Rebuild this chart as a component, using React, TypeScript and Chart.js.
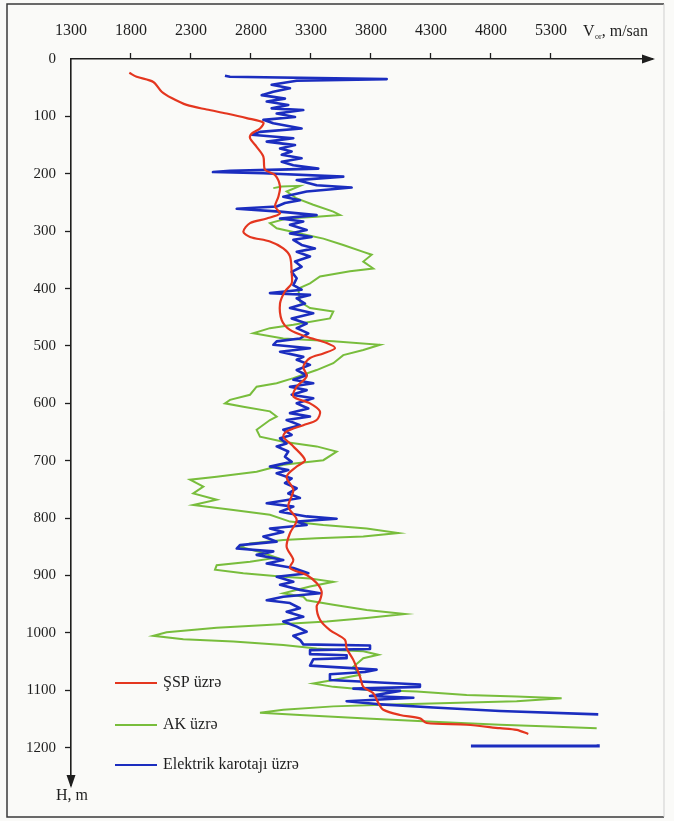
import React, { useEffect, useRef } from "react";
import { Chart, registerables } from "chart.js";

Chart.register(...registerables);

// ---- axes ----
const velocityTicks = [1300, 1800, 2300, 2800, 3300, 3800, 4300, 4800, 5300];
const depthTicks = [0, 100, 200, 300, 400, 500, 600, 700, 800, 900, 1000, 1100, 1200];
const velocityRange = [1300, 6142];
const depthRange = [0, 1265];

const seriesNames = ["ŞSP üzrə", "AK üzrə", "Elektrik karotajı üzrə"];
const seriesColors = ["#e4361f", "#78bd3c", "#1b2dbf"];

// ---- data: [depth H (m), velocity V (m/san)] ----
const sspLog: [number, number][] = [
  [24, 1786], [31, 1847], [40, 1986], [57, 2056], [68, 2139], [80, 2264], [88, 2431], [95, 2597],
  [103, 2764], [111, 2903], [121, 2875], [130, 2806], [138, 2792], [153, 2847], [170, 2903], [193, 2917],
  [202, 3000], [222, 3042], [240, 3028], [257, 3000], [269, 3042], [278, 2931], [286, 2792], [301, 2736],
  [310, 2792], [318, 2958], [330, 3069], [344, 3125], [373, 3139], [391, 3139], [405, 3083], [426, 3042],
  [455, 3056], [472, 3125], [484, 3264], [495, 3431], [504, 3500], [513, 3403], [521, 3292], [536, 3236],
  [553, 3264], [571, 3181], [588, 3153], [600, 3292], [614, 3375], [629, 3347], [638, 3236], [649, 3097],
  [658, 3069], [675, 3153], [699, 3250], [710, 3181], [728, 3097], [751, 3153], [780, 3111], [803, 3181],
  [826, 3125], [850, 3097], [873, 3153], [887, 3125], [899, 3264], [913, 3347], [928, 3389], [943, 3375],
  [954, 3347], [977, 3375], [995, 3458], [1012, 3583], [1027, 3597], [1047, 3653], [1076, 3708], [1094, 3736],
  [1105, 3819], [1122, 3861], [1134, 3903], [1143, 4042], [1149, 4208], [1157, 4264], [1160, 4597], [1166, 4875],
  [1169, 5014], [1176, 5111],
];

const akLog: [number, number][] = [
  [225, 2986], [222, 3056], [221, 3208], [231, 3097], [243, 3181], [254, 3319], [266, 3486], [272, 3542],
  [275, 3347], [278, 3097], [286, 2958], [295, 3014], [304, 3208], [313, 3403], [324, 3569], [336, 3736],
  [341, 3806], [353, 3736], [365, 3819], [370, 3625], [379, 3375], [391, 3292], [400, 3194], [423, 3208],
  [434, 3292], [440, 3486], [452, 3458], [463, 3153], [469, 2958], [478, 2819], [487, 3069], [492, 3486],
  [498, 3875], [507, 3736], [516, 3569], [530, 3486], [542, 3347], [556, 3153], [565, 3014], [571, 2847],
  [585, 2792], [594, 2625], [600, 2583], [606, 2736], [614, 2958], [623, 3014], [629, 2958], [646, 2847],
  [658, 2875], [667, 3069], [675, 3347], [684, 3514], [699, 3403], [707, 3069], [719, 2847], [728, 2514],
  [733, 2292], [745, 2403], [757, 2319], [768, 2514], [777, 2319], [786, 2653], [794, 2958], [806, 3125],
  [812, 3403], [818, 3764], [826, 4028], [832, 3736], [835, 3347], [838, 3069], [844, 2792], [850, 2708],
  [859, 2875], [869, 3014], [876, 2792], [882, 2514], [890, 2500], [896, 2736], [902, 3069], [905, 3292],
  [911, 3486], [919, 3292], [931, 3069], [937, 3236], [943, 3264], [951, 3486], [960, 3764], [967, 4083],
  [974, 3764], [980, 3431], [986, 2931], [991, 2514], [999, 2097], [1005, 1986], [1011, 2236], [1015, 2653],
  [1021, 3069], [1027, 3347], [1030, 3542], [1032, 3736], [1038, 3861], [1044, 3736], [1059, 3653], [1073, 3708],
  [1082, 3486], [1088, 3319], [1094, 3486], [1099, 3764], [1102, 4181], [1108, 4597], [1111, 5014], [1114, 5389],
  [1119, 5014], [1122, 4458], [1125, 3903], [1128, 3486], [1134, 3069], [1139, 2875], [1143, 3208], [1149, 3764],
  [1155, 4319], [1160, 4875], [1163, 5292], [1166, 5681],
];

const ekLog: [number, number][] = [
  [29, 2583], [31, 2625], [35, 3931], [38, 3181], [45, 2972], [51, 3125], [57, 2986], [63, 2889],
  [69, 3083], [74, 2931], [80, 3111], [86, 2972], [89, 3236], [95, 3014], [101, 3167], [106, 2903],
  [112, 2986], [121, 3222], [127, 2875], [132, 2806], [138, 3153], [144, 2931], [150, 3167], [156, 3042],
  [161, 3139], [167, 3056], [173, 3222], [179, 3056], [185, 3153], [191, 3361], [195, 2625], [197, 2483],
  [199, 2903], [205, 3569], [211, 3181], [220, 3347], [224, 3639], [231, 3264], [240, 3069], [246, 3208],
  [251, 3083], [257, 3014], [261, 2681], [266, 3042], [272, 3347], [278, 3042], [283, 3236], [289, 3125],
  [298, 3264], [304, 3125], [310, 3306], [315, 3153], [324, 3222], [330, 3333], [336, 3181], [344, 3292],
  [353, 3167], [362, 3222], [371, 3139], [382, 3181], [394, 3153], [402, 3222], [408, 2958], [411, 3292],
  [417, 3181], [426, 3250], [434, 3125], [443, 3319], [452, 3139], [461, 3264], [469, 3181], [478, 3278],
  [487, 3208], [492, 3014], [498, 2986], [504, 3292], [510, 3042], [519, 3236], [524, 3181], [533, 3292],
  [542, 3181], [551, 3264], [559, 3153], [565, 3319], [571, 3125], [577, 3264], [585, 3139], [591, 3319],
  [600, 3181], [609, 3278], [617, 3125], [623, 3292], [629, 3097], [638, 3208], [646, 3069], [655, 3139],
  [661, 3042], [670, 3097], [675, 3014], [684, 3111], [693, 3083], [702, 3139], [710, 2958], [716, 3111],
  [722, 3014], [731, 3139], [739, 3083], [748, 3181], [757, 3111], [765, 3208], [774, 2931], [780, 3153],
  [789, 3042], [797, 3264], [801, 3514], [806, 3181], [812, 3264], [818, 2958], [824, 3069], [832, 2903],
  [841, 3014], [847, 2708], [853, 2681], [858, 2986], [864, 2847], [873, 3069], [879, 2931], [887, 3153],
  [896, 3278], [902, 3014], [911, 3153], [916, 3042], [925, 3208], [931, 3375], [937, 3069], [943, 2931],
  [948, 3125], [957, 3208], [963, 3097], [972, 3236], [980, 3069], [989, 3181], [998, 3264], [1005, 3153],
  [1012, 3208], [1020, 3236], [1022, 3792], [1028, 3792], [1030, 3292], [1037, 3292], [1039, 3597], [1044, 3597],
  [1046, 3319], [1057, 3292], [1064, 3847], [1068, 3750], [1072, 3458], [1082, 3458], [1090, 4208], [1094, 4208],
  [1097, 3653], [1101, 4042], [1110, 3792], [1113, 4153], [1119, 3597], [1124, 3847], [1130, 4319], [1136, 4875],
  [1142, 5694],
];

const ekTailLog: [number, number][] = [
  [1197, 4633], [1197, 5408], [1194, 5694],
];

const toPoints = (log: [number, number][]) => log.map(([d, v]) => ({ x: v, y: d }));

const SERIF = '"Liberation Serif", "Times New Roman", serif';
const INK = "#1e1e1e";

const decorPlugin = {
  id: "decor",
  beforeDraw(chart: any) {
    const { ctx, width, height } = chart;
    ctx.save();
    ctx.fillStyle = "#fafaf8";
    ctx.fillRect(0, 0, width, height);
    ctx.restore();
  },
  afterDraw(chart: any) {
    const { ctx, chartArea } = chart;
    const { left, top, right, bottom } = chartArea;
    ctx.save();
    // page frame
    ctx.strokeStyle = "#3a3a3a";
    ctx.lineWidth = 1.5;
    ctx.beginPath();
    ctx.moveTo(664, 4);
    ctx.lineTo(7, 4);
    ctx.lineTo(7, 817);
    ctx.lineTo(664, 817);
    ctx.stroke();
    ctx.strokeStyle = "#cfcfcf";
    ctx.lineWidth = 1;
    ctx.beginPath();
    ctx.moveTo(664, 4);
    ctx.lineTo(664, 817);
    ctx.stroke();

    // axis arrows
    ctx.fillStyle = INK;
    ctx.beginPath();
    ctx.moveTo(right + 3, top);
    ctx.lineTo(right - 10, top - 4.5);
    ctx.lineTo(right - 10, top + 4.5);
    ctx.closePath();
    ctx.fill();
    ctx.beginPath();
    ctx.moveTo(left, bottom + 3);
    ctx.lineTo(left - 4.5, bottom - 10);
    ctx.lineTo(left + 4.5, bottom - 10);
    ctx.closePath();
    ctx.fill();

    // axis unit labels
    const xs = chart.scales.x;
    let ux = xs.getPixelForValue(5300) + 32;
    const uy = top - 23.5;
    ctx.textBaseline = "alphabetic";
    ctx.textAlign = "left";
    ctx.font = `16px ${SERIF}`;
    ctx.fillText("V", ux, uy);
    ux += ctx.measureText("V").width + 0.5;
    ctx.font = `8px ${SERIF}`;
    ctx.fillText("or", ux, uy + 3);
    ux += ctx.measureText("or").width;
    ctx.font = `16px ${SERIF}`;
    ctx.fillText(", m/san", ux, uy);

    ctx.textAlign = "center";
    ctx.textBaseline = "middle";
    ctx.fillText("H, m", left + 1, bottom + 11);

    // legend
    const rows = [bottom - 102, bottom - 60, bottom - 20];
    rows.forEach((y, i) => {
      ctx.strokeStyle = seriesColors[i];
      ctx.lineWidth = 2;
      ctx.beginPath();
      ctx.moveTo(left + 44, y);
      ctx.lineTo(left + 86, y);
      ctx.stroke();
      ctx.fillStyle = INK;
      ctx.textAlign = "left";
      ctx.textBaseline = "middle";
      ctx.font = `16px ${SERIF}`;
      ctx.fillText(seriesNames[i], left + 92, y);
    });
    ctx.restore();
  },
};

export default function App() {
  const ref = useRef<HTMLCanvasElement | null>(null);

  useEffect(() => {
    if (!ref.current) return;
    const tickColorFor = (origin: number) => (c: any) =>
      c.tick && c.tick.value === origin ? "rgba(0,0,0,0)" : INK;

    const chart = new Chart(ref.current, {
      type: "scatter",
      data: {
        datasets: [
          {
            label: seriesNames[0],
            data: toPoints(sspLog),
            showLine: true,
            borderColor: seriesColors[0],
            borderWidth: 2.2,
            pointRadius: 0,
            tension: 0.3,
          },
          {
            label: seriesNames[2],
            data: toPoints(ekLog),
            showLine: true,
            borderColor: seriesColors[2],
            borderWidth: 2.6,
            borderJoinStyle: "round",
            pointRadius: 0,
          },
          {
            label: seriesNames[2] + " (2)",
            data: toPoints(ekTailLog),
            showLine: true,
            borderColor: seriesColors[2],
            borderWidth: 3,
            pointRadius: 0,
            stepped: "before",
          },
          {
            label: seriesNames[1],
            data: toPoints(akLog),
            showLine: true,
            borderColor: seriesColors[1],
            borderWidth: 2,
            pointRadius: 0,
          },
        ],
      } as any,
      options: {
        animation: false,
        responsive: false,
        maintainAspectRatio: false,
        devicePixelRatio: 1,
        layout: { padding: { left: 0, top: 0, right: 22, bottom: 36 } },
        plugins: { legend: { display: false }, tooltip: { enabled: false } },
        scales: {
          x: {
            type: "linear",
            position: "top",
            min: velocityRange[0],
            max: velocityRange[1],
            afterBuildTicks: (s: any) => {
              s.ticks = velocityTicks.map((value) => ({ value }));
            },
            afterFit: (s: any) => {
              s.height = 59;
            },
            ticks: {
              autoSkip: false,
              maxRotation: 0,
              padding: 13,
              color: INK,
              font: { family: SERIF, size: 16 },
              callback: (v: any) => String(v),
            },
            grid: {
              drawOnChartArea: false,
              drawTicks: true,
              tickLength: 6,
              tickWidth: 1.3,
              tickColor: tickColorFor(velocityRange[0]),
            },
            border: { display: true, color: INK, width: 1.6 },
          },
          y: {
            type: "linear",
            position: "left",
            reverse: true,
            min: depthRange[0],
            max: depthRange[1],
            afterBuildTicks: (s: any) => {
              s.ticks = depthTicks.map((value) => ({ value }));
            },
            afterFit: (s: any) => {
              s.width = 71;
            },
            ticks: {
              autoSkip: false,
              padding: 9,
              color: INK,
              font: { family: SERIF, size: 15 },
              callback: (v: any) => String(v),
            },
            grid: {
              drawOnChartArea: false,
              drawTicks: true,
              tickLength: 6,
              tickWidth: 1.3,
              tickColor: tickColorFor(depthRange[0]),
            },
            border: { display: true, color: INK, width: 1.6 },
          },
        },
      } as any,
      plugins: [decorPlugin],
    });
    return () => chart.destroy();
  }, []);

  return (
    <div style={{ position: "absolute", left: 0, top: 0, width: 674, height: 821 }}>
      <canvas ref={ref} width={674} height={821} style={{ display: "block", width: 674, height: 821 }} />
    </div>
  );
}
